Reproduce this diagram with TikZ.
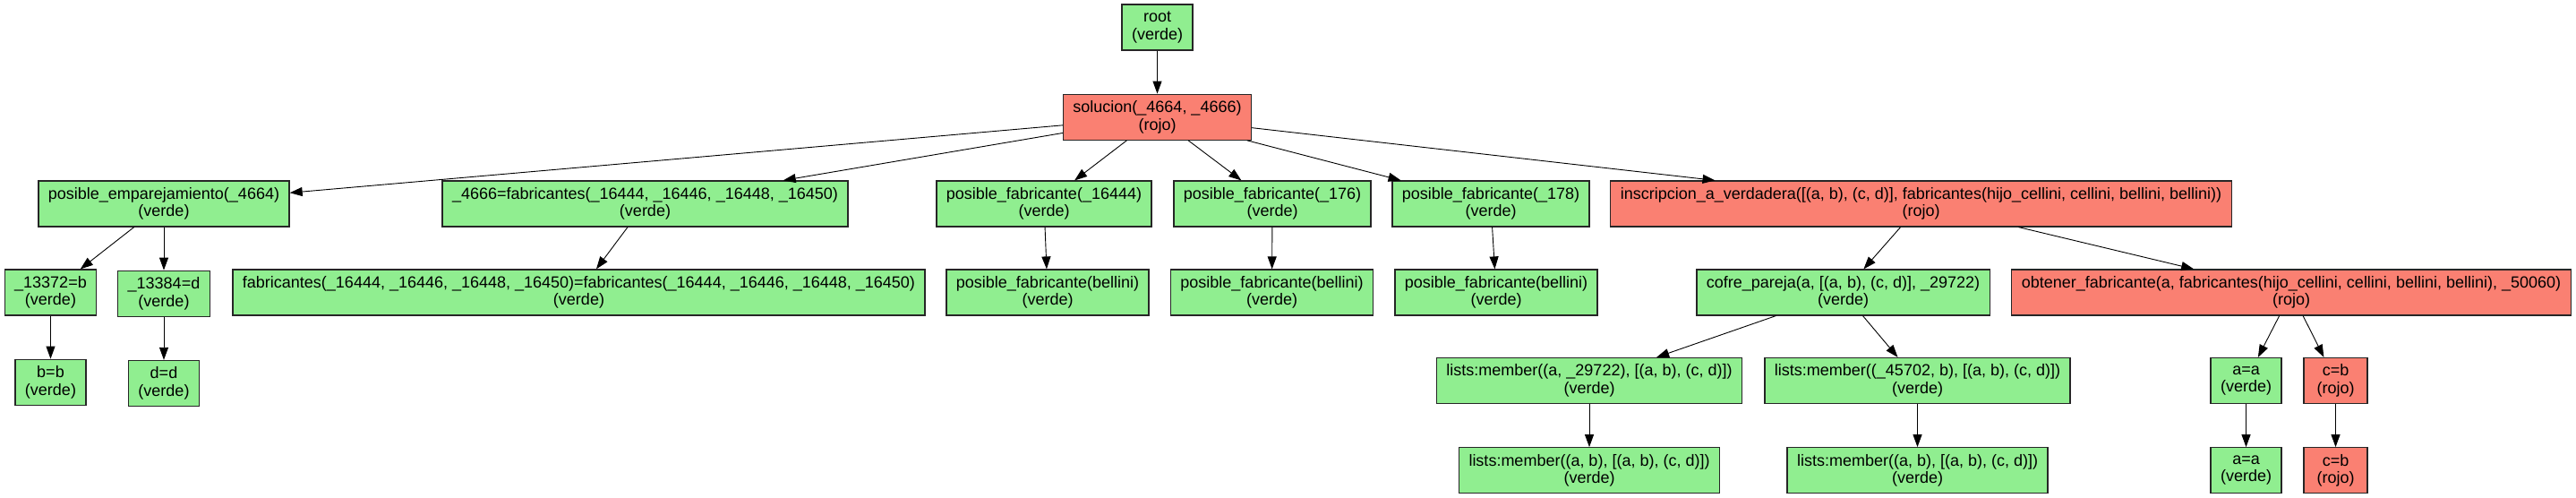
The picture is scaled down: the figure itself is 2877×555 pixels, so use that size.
\documentclass[tikz,border=0pt]{standalone}
\usepackage{fontspec}
\setmainfont{Liberation Sans}
\usepackage{xcolor}
\usetikzlibrary{arrows.meta,positioning}
\definecolor{verdeclaro}{RGB}{144,238,144}
\definecolor{salmon}{RGB}{250,128,114}
\tikzset{
  goalbox/.style={
    rectangle, draw=black!85, line width=1.2pt,
    fill=#1, minimum width=71pt, minimum height=51pt,
    inner xsep=11pt, inner ysep=2pt,
    align=center, font=\fontsize{18pt}{19.5pt}\selectfont
  },
  verdebox/.style={goalbox=verdeclaro},
  rojobox/.style={goalbox=salmon},
  arr/.style={-{Triangle[length=14pt,width=10pt]}, line width=0.9pt, black}
}

\begin{document}
\begin{tikzpicture}[x=1pt, y=-1pt, node distance=48pt]
\useasboundingbox (0,0) rectangle (2877,555);

% Root
\node[verdebox] (root) at (1292.5,30.5) {root\\(verde)};
\node[rojobox, below=of root] (sol) {solucion(\_4664, \_4666)\\(rojo)};

% Level 2
\node[verdebox] (emp) at (183,227.5) {posible\_emparejamiento(\_4664)\\(verde)};
\node[verdebox] (fab) at (720.5,227.5)
  {\_4666=fabricantes(\_16444, \_16446, \_16448, \_16450)\\(verde)};
\node[verdebox] (pfa) at (1166,227.5) {posible\_fabricante(\_16444)\\(verde)};
\node[verdebox] (pfb) at (1421,227.5) {posible\_fabricante(\_176)\\(verde)};
\node[verdebox] (pfc) at (1665,227.5) {posible\_fabricante(\_178)\\(verde)};
\node[rojobox] (insc) at (2145.5,227.5)
  {inscripcion\_a\_verdadera([(a, b), (c, d)], fabricantes(hijo\_cellini, cellini, bellini, bellini))\\(rojo)};

% Level 3
\node[verdebox] (v13372) at (56.5,326.5) {\_13372=b\\(verde)};
\node[verdebox, below=of emp] (v13384) {\_13384=d\\(verde)};
\node[verdebox] (fabeq) at (646.5,326.5)
  {fabricantes(\_16444, \_16446, \_16448, \_16450)=fabricantes(\_16444, \_16446, \_16448, \_16450)\\(verde)};
\node[verdebox] (bel1) at (1170,326.5) {posible\_fabricante(bellini)\\(verde)};
\node[verdebox] (bel2) at (1420.5,326.5) {posible\_fabricante(bellini)\\(verde)};
\node[verdebox] (bel3) at (1671,326.5) {posible\_fabricante(bellini)\\(verde)};
\node[verdebox] (cofre) at (2058.5,326.5) {cofre\_pareja(a, [(a, b), (c, d)], \_29722)\\(verde)};
\node[rojobox] (obt) at (2559,326.5)
  {obtener\_fabricante(a, fabricantes(hijo\_cellini, cellini, bellini, bellini), \_50060)\\(rojo)};

% Level 4
\node[verdebox, below=of v13372] (bb) {b=b\\(verde)};
\node[verdebox, below=of v13384] (dd) {d=d\\(verde)};
\node[verdebox] (mem1) at (1775,425) {lists:member((a, \_29722), [(a, b), (c, d)])\\(verde)};
\node[verdebox] (mem2) at (2141.5,425) {lists:member((\_45702, b), [(a, b), (c, d)])\\(verde)};
\node[verdebox] (aa) at (2508.5,425) {a=a\\(verde)};
\node[rojobox] (cb) at (2608.5,425) {c=b\\(rojo)};

% Level 5
\node[verdebox, below=of mem1] (mem1b) {lists:member((a, b), [(a, b), (c, d)])\\(verde)};
\node[verdebox, below=of mem2] (mem2b) {lists:member((a, b), [(a, b), (c, d)])\\(verde)};
\node[verdebox, below=of aa] (aa2) {a=a\\(verde)};
\node[rojobox, below=of cb] (cb2) {c=b\\(rojo)};

% ── Arrows ──────────────────────────────────────────────────────────────
\draw[arr] (root) -- (sol);
\draw[arr] (sol) -- (emp);
\draw[arr] (sol) -- (fab);
\draw[arr] (sol) -- (pfa);
\draw[arr] (sol) -- (pfb);
\draw[arr] (sol) -- (pfc);
\draw[arr] (sol) -- (insc);

\draw[arr] (emp) -- (v13372);
\draw[arr] (emp) -- (v13384);
\draw[arr] (fab) -- (fabeq);
\draw[arr] (pfa) -- (bel1);
\draw[arr] (pfb) -- (bel2);
\draw[arr] (pfc) -- (bel3);
\draw[arr] (insc) -- (cofre);
\draw[arr] (insc) -- (obt);

\draw[arr] (v13372) -- (bb);
\draw[arr] (v13384) -- (dd);
\draw[arr] (cofre) -- (mem1);
\draw[arr] (cofre) -- (mem2);
\draw[arr] (obt) -- (aa);
\draw[arr] (obt) -- (cb);

\draw[arr] (mem1) -- (mem1b);
\draw[arr] (mem2) -- (mem2b);
\draw[arr] (aa) -- (aa2);
\draw[arr] (cb) -- (cb2);

\end{tikzpicture}
\end{document}
